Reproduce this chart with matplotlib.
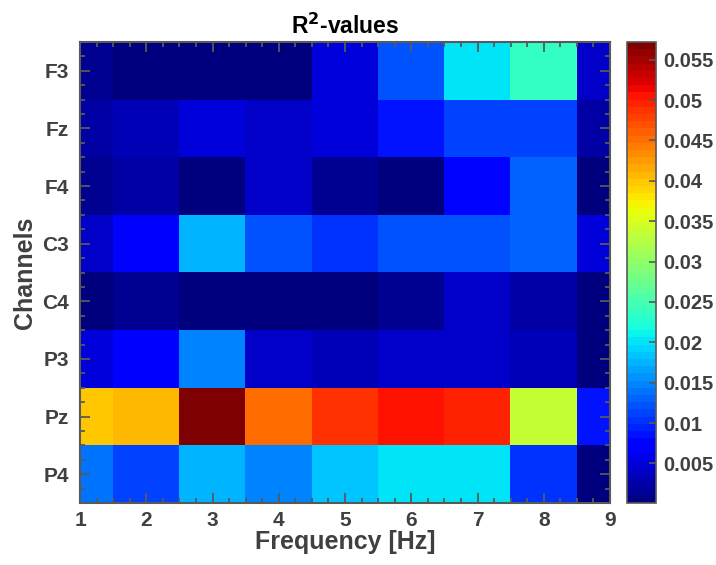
import numpy as np
import matplotlib
matplotlib.use("Agg")
import matplotlib.pyplot as plt
from matplotlib.ticker import MultipleLocator

channels = ["F3", "Fz", "F4", "C3", "C4", "P3", "Pz", "P4"]
freqs = [1, 2, 3, 4, 5, 6, 7, 8, 9]

r2_F3 = [0.0011, 0.0002, 0.0007, 0.0007, 0.0047, 0.0118, 0.0199, 0.0236, 0.0039]
r2_Fz = [0.0020, 0.0030, 0.0047, 0.0039, 0.0047, 0.0084, 0.0110, 0.0110, 0.0022]
r2_F4 = [0.0010, 0.0026, 0.0003, 0.0039, 0.0010, 0.0005, 0.0078, 0.0127, 0.0002]
r2_C3 = [0.0040, 0.0067, 0.0171, 0.0118, 0.0104, 0.0118, 0.0123, 0.0127, 0.0051]
r2_C4 = [0.0005, 0.0011, 0.0003, 0.0003, 0.0002, 0.0011, 0.0041, 0.0026, 0.0002]
r2_P3 = [0.0049, 0.0066, 0.0150, 0.0037, 0.0032, 0.0041, 0.0037, 0.0030, 0.0005]
r2_Pz = [0.0395, 0.0406, 0.0572, 0.0452, 0.0484, 0.0503, 0.0495, 0.0332, 0.0084]
r2_P4 = [0.0137, 0.0110, 0.0178, 0.0150, 0.0185, 0.0205, 0.0198, 0.0107, 0.0004]

cbar_ticks = [0.005, 0.01, 0.015, 0.02, 0.025, 0.03, 0.035, 0.04, 0.045, 0.05, 0.055]
cbar_labels = ["0.005", "0.01", "0.015", "0.02", "0.025", "0.03", "0.035", "0.04", "0.045", "0.05", "0.055"]

data = np.array([r2_F3, r2_Fz, r2_F4, r2_C3, r2_C4, r2_P3, r2_Pz, r2_P4])

plt.rcParams['font.family'] = ['Liberation Sans', 'DejaVu Sans']
plt.rcParams['font.weight'] = 'bold'

txt = (0.25, 0.25, 0.25)
edge = (0.35, 0.35, 0.35)

fig = plt.figure(figsize=(7.16, 5.65), dpi=100)
ax = fig.add_axes([80/716, 62/565, 530/716, 461/565])
cmap = plt.get_cmap('jet', 64)
vmin, vmax = 0.0001, 0.0572
im = ax.imshow(data, cmap=cmap, vmin=vmin, vmax=vmax, aspect='auto',
               interpolation='nearest',
               extent=[freqs[0] - 0.5, freqs[-1] + 0.5, len(channels) + 0.5, 0.5])
ax.set_xlim(freqs[0], freqs[-1])
ax.set_ylim(len(channels) + 0.5, 0.5)
ax.set_xticks(freqs)
ax.set_xticklabels([str(f) for f in freqs])
ax.set_yticks(range(1, len(channels) + 1))
ax.set_yticklabels(channels)
ax.xaxis.set_minor_locator(MultipleLocator(0.25))
ax.yaxis.set_minor_locator(MultipleLocator(0.25))
ax.tick_params(which='both', direction='in', top=True, right=True, color=edge,
               labelcolor=txt, labelsize=15, width=1.3)
ax.tick_params(which='major', length=7)
ax.tick_params(which='minor', length=3.5)
ax.tick_params(axis='x', pad=6)
ax.tick_params(axis='y', pad=8)
for s in ax.spines.values():
    s.set_color(edge)
    s.set_linewidth(1.5)
ax.set_xlabel("Frequency [Hz]", fontsize=18, fontweight='bold', color=txt, labelpad=0)
ax.set_ylabel("Channels", fontsize=18, fontweight='bold', color=txt, labelpad=4)
ax.set_title("R$^\\mathbf{2}$-values", fontsize=16.5, fontweight='bold', color='black', pad=6)

cax = fig.add_axes([627/716, 62/565, 29/716, 461/565])
cb = fig.colorbar(im, cax=cax)
cb.set_ticks(cbar_ticks)
cb.set_ticklabels(cbar_labels)
cax.tick_params(direction='in', length=5, color=edge, labelcolor=txt,
                labelsize=14.5, width=1.2, pad=5)
cb.outline.set_edgecolor(edge)
cb.outline.set_linewidth(1.2)

fig.savefig("out.png", dpi=100)
